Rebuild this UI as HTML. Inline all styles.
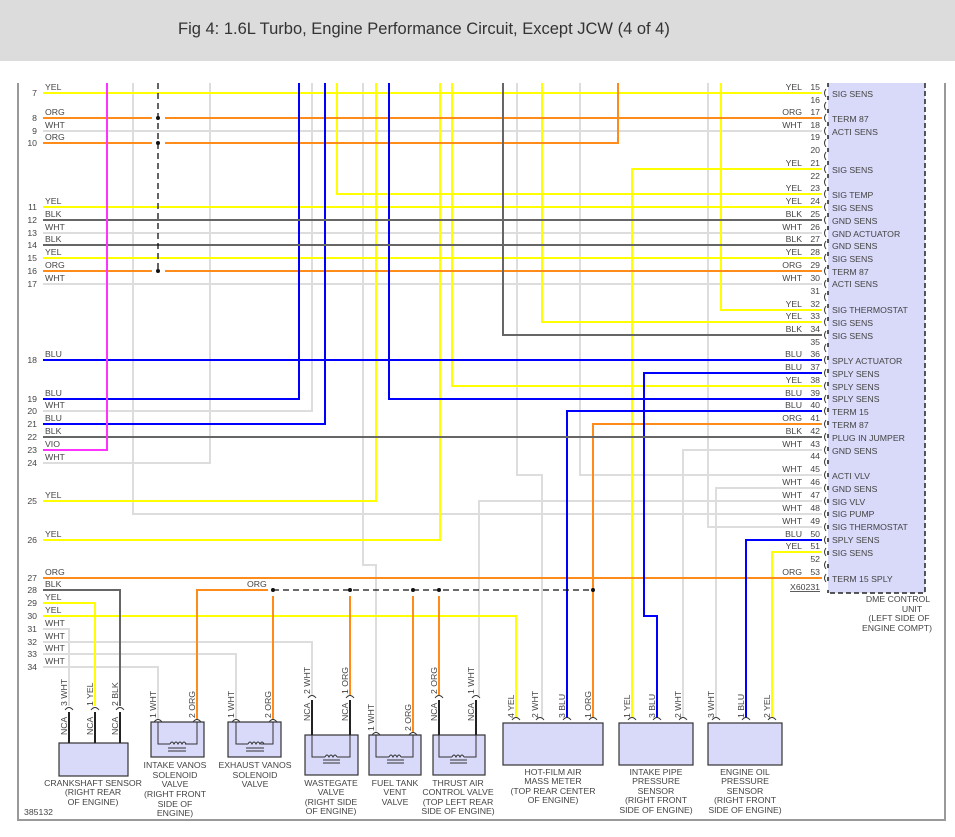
<!DOCTYPE html>
<html><head><meta charset="utf-8"><style>
body{margin:0;background:#fff;width:955px;height:837px;overflow:hidden;font-family:"Liberation Sans",sans-serif}
.hd{position:absolute;left:0;top:0;width:955px;height:61px;background:#dcdcdc}
.hd span{position:absolute;left:178px;top:20px;font-size:16.5px;color:#333}
svg{position:absolute;left:0;top:0}
text{font-family:"Liberation Sans",sans-serif;font-size:8.7px;fill:#444}
</style></head><body>
<div class="hd"><span>Fig 4: 1.6L Turbo, Engine Performance Circuit, Except JCW (4 of 4)</span></div>
<svg width="955" height="837" viewBox="0 0 955 837">
<g fill="none" stroke="#999" stroke-width="2"><path d="M18 83V820H945V83"/></g>
<rect x="828" y="83" width="97" height="510" fill="#d9d9f9"/>
<path d="M925 83V593H828" fill="none" stroke="#222" stroke-width="1.5" stroke-dasharray="5,3"/>
<path d="M828 83V593" fill="none" stroke="#222" stroke-width="1.5" stroke-dasharray="4,9"/>
<g fill="none" stroke-width="2">
<g stroke="#dddddd">
<path d="M43 131H822M43 233H822M43 284H822M43 411H312V83M43 463H210V83M133 83V514H822M363 83V565H376V733M517 83V475H542V718M580 83V475H822M708 83V527H822M822 450H683V718M822 488H716V718M822 501H479V696M43 629H69V706M43 642H312V695M43 654H236V720M43 667H158V720"/>
</g>
<g stroke="#ffff00">
<path d="M43 93H822M43 207H822M43 258H822M43 501H376V83M43 540H440V83M452 83V386H822M337 83V194H822M542 83V322H822M721 83V310H822M822 169H632V718M822 552H772V718M43 603H95V706M43 616H516V718"/>
</g>
<g stroke="#ff8c1a">
<path d="M43 118H152M165 118H822M43 143H152M165 143H618V83M43 271H152M165 271H822M43 578H822M822 424H593V718M268 590H197V720M273 596V720M350 596V695M413 596V733M439 596V695"/>
</g>
<g stroke="#0000ff">
<path d="M43 360H822M43 399H299V83M43 424H325V83M389 83V399H822M822 373H644V616H657V718M822 411H567V718M822 540H746V718"/>
</g>
<g stroke="#666">
<path d="M43 220H822M43 245H822M43 437H822M503 83V335H822M43 590H120V706"/>
</g>
<path stroke="#ff33ff" d="M43 450H107V83"/>
</g>
<g stroke="#111" stroke-width="1.3" fill="none" stroke-dasharray="6,4"><path d="M158 83V271M273 590H593"/></g>
<g fill="#111"><circle cx="158" cy="118" r="2"/><circle cx="158" cy="143" r="2"/><circle cx="158" cy="271" r="2"/><circle cx="273" cy="590" r="2"/><circle cx="350" cy="590" r="2"/><circle cx="413" cy="590" r="2"/><circle cx="439" cy="590" r="2"/><circle cx="593" cy="590" r="2"/></g>
<g text-anchor="end">
<text x="37" y="96">7</text><text x="37" y="121">8</text><text x="37" y="134">9</text><text x="37" y="146">10</text><text x="37" y="210">11</text><text x="37" y="223">12</text><text x="37" y="236">13</text><text x="37" y="248">14</text><text x="37" y="261">15</text><text x="37" y="274">16</text><text x="37" y="287">17</text><text x="37" y="363">18</text><text x="37" y="402">19</text><text x="37" y="414">20</text><text x="37" y="427">21</text><text x="37" y="440">22</text><text x="37" y="453">23</text><text x="37" y="466">24</text><text x="37" y="504">25</text><text x="37" y="543">26</text><text x="37" y="581">27</text><text x="37" y="593">28</text><text x="37" y="606">29</text><text x="37" y="619">30</text><text x="37" y="632">31</text><text x="37" y="645">32</text><text x="37" y="657">33</text><text x="37" y="670">34</text>
</g>
<g>
<text x="45" y="90">YEL</text><text x="45" y="115">ORG</text><text x="45" y="128">WHT</text><text x="45" y="140">ORG</text><text x="45" y="204">YEL</text><text x="45" y="217">BLK</text><text x="45" y="230">WHT</text><text x="45" y="242">BLK</text><text x="45" y="255">YEL</text><text x="45" y="268">ORG</text><text x="45" y="281">WHT</text><text x="45" y="357">BLU</text><text x="45" y="396">BLU</text><text x="45" y="408">WHT</text><text x="45" y="421">BLU</text><text x="45" y="434">BLK</text><text x="45" y="447">VIO</text><text x="45" y="460">WHT</text><text x="45" y="498">YEL</text><text x="45" y="537">YEL</text><text x="45" y="575">ORG</text><text x="45" y="587">BLK</text><text x="45" y="600">YEL</text><text x="45" y="613">YEL</text><text x="45" y="626">WHT</text><text x="45" y="639">WHT</text><text x="45" y="651">WHT</text><text x="45" y="664">WHT</text>
<text x="247" y="587">ORG</text>
</g>
<g text-anchor="end">
<text x="820" y="90">15</text><text x="820" y="103">16</text><text x="820" y="115">17</text><text x="820" y="128">18</text><text x="820" y="140">19</text><text x="820" y="153">20</text><text x="820" y="166">21</text><text x="820" y="179">22</text><text x="820" y="191">23</text><text x="820" y="204">24</text><text x="820" y="217">25</text><text x="820" y="230">26</text><text x="820" y="242">27</text><text x="820" y="255">28</text><text x="820" y="268">29</text><text x="820" y="281">30</text><text x="820" y="294">31</text><text x="820" y="307">32</text><text x="820" y="319">33</text><text x="820" y="332">34</text><text x="820" y="345">35</text><text x="820" y="357">36</text><text x="820" y="370">37</text><text x="820" y="383">38</text><text x="820" y="396">39</text><text x="820" y="408">40</text><text x="820" y="421">41</text><text x="820" y="434">42</text><text x="820" y="447">43</text><text x="820" y="459">44</text><text x="820" y="472">45</text><text x="820" y="485">46</text><text x="820" y="498">47</text><text x="820" y="511">48</text><text x="820" y="524">49</text><text x="820" y="537">50</text><text x="820" y="549">51</text><text x="820" y="562">52</text><text x="820" y="575">53</text>
<text x="802" y="90">YEL</text><text x="802" y="115">ORG</text><text x="802" y="128">WHT</text><text x="802" y="166">YEL</text><text x="802" y="191">YEL</text><text x="802" y="204">YEL</text><text x="802" y="217">BLK</text><text x="802" y="230">WHT</text><text x="802" y="242">BLK</text><text x="802" y="255">YEL</text><text x="802" y="268">ORG</text><text x="802" y="281">WHT</text><text x="802" y="307">YEL</text><text x="802" y="319">YEL</text><text x="802" y="332">BLK</text><text x="802" y="357">BLU</text><text x="802" y="370">BLU</text><text x="802" y="383">YEL</text><text x="802" y="396">BLU</text><text x="802" y="408">BLU</text><text x="802" y="421">ORG</text><text x="802" y="434">BLK</text><text x="802" y="447">WHT</text><text x="802" y="472">WHT</text><text x="802" y="485">WHT</text><text x="802" y="498">WHT</text><text x="802" y="511">WHT</text><text x="802" y="524">WHT</text><text x="802" y="537">BLU</text><text x="802" y="549">YEL</text><text x="802" y="575">ORG</text>
<text x="820" y="590" text-decoration="underline">X60231</text>
</g>
<g fill="none" stroke="#333" stroke-width="1">
<path d="M826 89q-3 4 0 8M826 102q-3 4 0 8M826 114q-3 4 0 8M826 127q-3 4 0 8M826 139q-3 4 0 8M826 152q-3 4 0 8M826 165q-3 4 0 8M826 178q-3 4 0 8M826 190q-3 4 0 8M826 203q-3 4 0 8M826 216q-3 4 0 8M826 229q-3 4 0 8M826 241q-3 4 0 8M826 254q-3 4 0 8M826 267q-3 4 0 8M826 280q-3 4 0 8M826 293q-3 4 0 8M826 306q-3 4 0 8M826 318q-3 4 0 8M826 331q-3 4 0 8M826 344q-3 4 0 8M826 356q-3 4 0 8M826 369q-3 4 0 8M826 382q-3 4 0 8M826 395q-3 4 0 8M826 407q-3 4 0 8M826 420q-3 4 0 8M826 433q-3 4 0 8M826 446q-3 4 0 8M826 458q-3 4 0 8M826 471q-3 4 0 8M826 484q-3 4 0 8M826 497q-3 4 0 8M826 510q-3 4 0 8M826 523q-3 4 0 8M826 536q-3 4 0 8M826 548q-3 4 0 8M826 561q-3 4 0 8M826 574q-3 4 0 8"/>
</g>
<g>
<text x="832" y="97">SIG SENS</text><text x="832" y="122">TERM 87</text><text x="832" y="135">ACTI SENS</text><text x="832" y="173">SIG SENS</text><text x="832" y="198">SIG TEMP</text><text x="832" y="211">SIG SENS</text><text x="832" y="224">GND SENS</text><text x="832" y="237">GND ACTUATOR</text><text x="832" y="249">GND SENS</text><text x="832" y="262">SIG SENS</text><text x="832" y="275">TERM 87</text><text x="832" y="287">ACTI SENS</text><text x="832" y="313">SIG THERMOSTAT</text><text x="832" y="326">SIG SENS</text><text x="832" y="339">SIG SENS</text><text x="832" y="364">SPLY ACTUATOR</text><text x="832" y="377">SPLY SENS</text><text x="832" y="390">SPLY SENS</text><text x="832" y="402">SPLY SENS</text><text x="832" y="415">TERM 15</text><text x="832" y="428">TERM 87</text><text x="832" y="441">PLUG IN JUMPER</text><text x="832" y="454">GND SENS</text><text x="832" y="479">ACTI VLV</text><text x="832" y="492">GND SENS</text><text x="832" y="505">SIG VLV</text><text x="832" y="517">SIG PUMP</text><text x="832" y="530">SIG THERMOSTAT</text><text x="832" y="543">SPLY SENS</text><text x="832" y="556">SIG SENS</text><text x="832" y="582">TERM 15 SPLY</text>
</g>
<g text-anchor="middle">
<text x="898" y="602">DME CONTROL</text><text x="912" y="612">UNIT</text><text x="899" y="621">(LEFT SIDE OF</text><text x="897" y="631">ENGINE COMPT)</text>
</g>
<g fill="#d9d9f9" stroke="#333" stroke-width="1.2">
<rect x="59" y="743" width="69" height="33"/>
<rect x="151" y="722" width="53" height="35"/>
<rect x="228" y="722" width="53" height="35"/>
<rect x="305" y="735" width="53" height="40"/>
<rect x="369" y="735" width="52" height="40"/>
<rect x="433" y="735" width="52" height="40"/>
<rect x="503" y="723" width="100" height="42"/>
<rect x="619" y="723" width="74" height="42"/>
<rect x="708" y="723" width="74" height="42"/>
</g>
<g fill="none" stroke="#222" stroke-width="2">
<path d="M69 712V743M95 712V743M120 712V743M312 700V735M350 700V735M439 700V735M476 700V735"/>
</g>
<g fill="none" stroke="#333" stroke-width="1">
<path d="M158 722V744H170M185 744H197V722M236 722V744H248M261 744H273V722M312 735V757H325M337 757H350V735M376 735V757H389M401 757H413V735M439 735V757H452M464 757H476V735"/>
<path d="M170 744q2-4 4 0q2-4 4 0q2-4 4 0q2-4 4 0M248 744q2-4 4 0q2-4 4 0q2-4 4 0q2-4 4 0M325 757q2-4 4 0q2-4 4 0q2-4 4 0M389 757q2-4 4 0q2-4 4 0q2-4 4 0M452 757q2-4 4 0q2-4 4 0q2-4 4 0"/>
<path d="M168 748H186M168 751H186M246 748H264M246 751H264M323 760H340M323 763H340M387 760H404M387 763H404M450 760H467M450 763H467"/>
<path d="M65 710q4-5 8 0M91 710q4-5 8 0M116 710q4-5 8 0M154 722q4-5 8 0M193 722q4-5 8 0M232 722q4-5 8 0M269 722q4-5 8 0M308 698q4-5 8 0M346 698q4-5 8 0M372 735q4-5 8 0M409 735q4-5 8 0M435 698q4-5 8 0M472 698q4-5 8 0M512 720q4-5 8 0M536 720q4-5 8 0M563 720q4-5 8 0M589 720q4-5 8 0M628 720q4-5 8 0M653 720q4-5 8 0M679 720q4-5 8 0M712 720q4-5 8 0M742 720q4-5 8 0M768 720q4-5 8 0"/>
</g>
<g font-size="8">
<text transform="translate(67,706) rotate(-90)">3  WHT</text>
<text transform="translate(93,706) rotate(-90)">1  YEL</text>
<text transform="translate(118,706) rotate(-90)">2  BLK</text>
<text transform="translate(67,735) rotate(-90)">NCA</text>
<text transform="translate(93,735) rotate(-90)">NCA</text>
<text transform="translate(118,735) rotate(-90)">NCA</text>
<text transform="translate(156,718) rotate(-90)">1  WHT</text>
<text transform="translate(195,718) rotate(-90)">2  ORG</text>
<text transform="translate(234,718) rotate(-90)">1  WHT</text>
<text transform="translate(271,718) rotate(-90)">2  ORG</text>
<text transform="translate(310,694) rotate(-90)">2  WHT</text>
<text transform="translate(348,694) rotate(-90)">1  ORG</text>
<text transform="translate(310,721) rotate(-90)">NCA</text>
<text transform="translate(348,721) rotate(-90)">NCA</text>
<text transform="translate(374,731) rotate(-90)">1  WHT</text>
<text transform="translate(411,731) rotate(-90)">2  ORG</text>
<text transform="translate(437,694) rotate(-90)">2  ORG</text>
<text transform="translate(474,694) rotate(-90)">1  WHT</text>
<text transform="translate(437,721) rotate(-90)">NCA</text>
<text transform="translate(474,721) rotate(-90)">NCA</text>
<text transform="translate(514,718) rotate(-90)">4  YEL</text>
<text transform="translate(538,718) rotate(-90)">2  WHT</text>
<text transform="translate(565,718) rotate(-90)">3  BLU</text>
<text transform="translate(591,718) rotate(-90)">1  ORG</text>
<text transform="translate(630,718) rotate(-90)">1  YEL</text>
<text transform="translate(655,718) rotate(-90)">3  BLU</text>
<text transform="translate(681,718) rotate(-90)">2  WHT</text>
<text transform="translate(714,718) rotate(-90)">3  WHT</text>
<text transform="translate(744,718) rotate(-90)">1  BLU</text>
<text transform="translate(770,718) rotate(-90)">2  YEL</text>
</g>
<g text-anchor="middle">
<text x="93" y="786">CRANKSHAFT SENSOR</text><text x="93" y="795">(RIGHT REAR</text><text x="93" y="805">OF ENGINE)</text>
<text x="175" y="768">INTAKE VANOS</text><text x="175" y="778">SOLENOID</text><text x="175" y="787">VALVE</text><text x="175" y="797">(RIGHT FRONT</text><text x="175" y="807">SIDE OF</text><text x="175" y="816">ENGINE)</text>
<text x="255" y="768">EXHAUST VANOS</text><text x="255" y="778">SOLENOID</text><text x="255" y="787">VALVE</text>
<text x="331" y="786">WASTEGATE</text><text x="331" y="795">VALVE</text><text x="331" y="805">(RIGHT SIDE</text><text x="331" y="814">OF ENGINE)</text>
<text x="395" y="786">FUEL TANK</text><text x="395" y="795">VENT</text><text x="395" y="805">VALVE</text>
<text x="458" y="786">THRUST AIR</text><text x="458" y="795">CONTROL VALVE</text><text x="458" y="805">(TOP LEFT REAR</text><text x="458" y="814">SIDE OF ENGINE)</text>
<text x="553" y="775">HOT-FILM AIR</text><text x="553" y="784">MASS METER</text><text x="553" y="794">(TOP REAR CENTER</text><text x="553" y="803">OF ENGINE)</text>
<text x="656" y="775">INTAKE PIPE</text><text x="656" y="784">PRESSURE</text><text x="656" y="794">SENSOR</text><text x="656" y="803">(RIGHT FRONT</text><text x="656" y="813">SIDE OF ENGINE)</text>
<text x="745" y="775">ENGINE OIL</text><text x="745" y="784">PRESSURE</text><text x="745" y="794">SENSOR</text><text x="745" y="803">(RIGHT FRONT</text><text x="745" y="813">SIDE OF ENGINE)</text>
</g>
<text x="24" y="815">385132</text>
</svg>
</body></html>
